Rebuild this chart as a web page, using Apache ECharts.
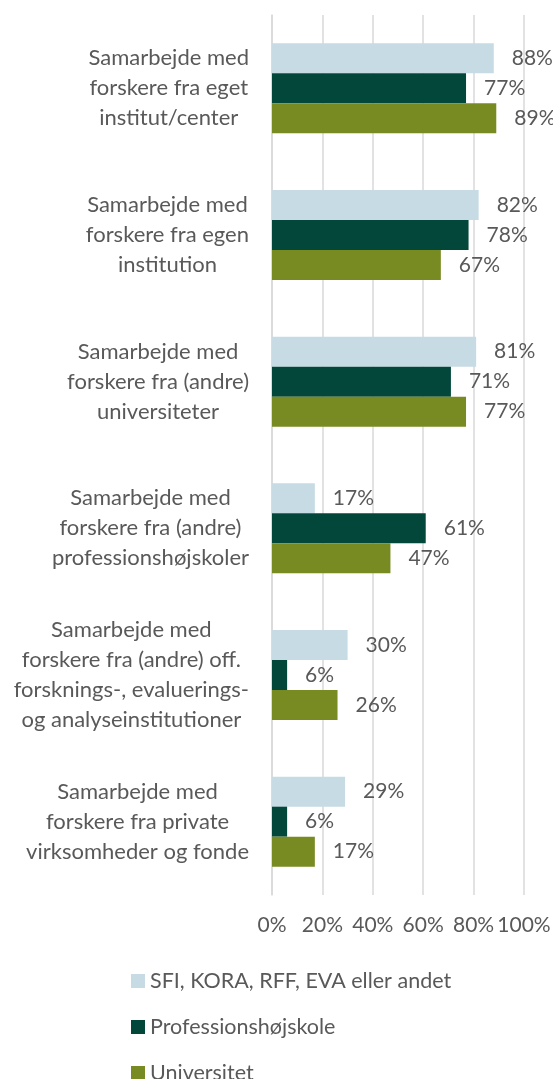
<!DOCTYPE html>
<html>
<head>
<meta charset="utf-8">
<script src="https://cdn.jsdelivr.net/npm/echarts@6/dist/echarts.min.js"></script>
<style>
  html, body { margin: 0; padding: 0; background: #fff; }
  #chart { width: 553px; height: 1079px; }
</style>
</head>
<body>
<div id="chart"></div>
<script>
// data
var categories = [
  'Samarbejde med\nforskere fra eget\ninstitut/center',
  'Samarbejde med\nforskere fra egen\ninstitution',
  'Samarbejde med\nforskere fra (andre)\nuniversiteter',
  'Samarbejde med\nforskere fra (andre)\nprofessionshøjskoler',
  'Samarbejde med\nforskere fra (andre) off.\nforsknings-, evaluerings-\nog analyseinstitutioner',
  'Samarbejde med\nforskere fra private\nvirksomheder og fonde'
];
var seriesNames = ['SFI, KORA, RFF, EVA eller andet', 'Professionshøjskole', 'Universitet'];
var sfiValues = [88, 82, 81, 17, 30, 29];
var profValues = [77, 78, 71, 61, 6, 6];
var uniValues = [89, 67, 77, 47, 26, 17];
var xTicks = [0, 20, 40, 60, 80, 100];

var colors = ['#c6dbe3', '#03473a', '#778b22'];
var textColor = '#595959';
var font = 'Lato';

var chart = echarts.init(document.getElementById('chart'));

function makeSeries(name, values, color) {
  return {
    name: name,
    type: 'bar',
    data: values,
    barWidth: 30,
    barGap: '0%',
    itemStyle: { color: color },
    label: {
      show: true,
      position: 'right',
      distance: 18,
      formatter: '{c}%',
      color: textColor,
      fontFamily: font,
      fontSize: 21
    }
  };
}

var option = {
  animation: false,
  color: colors,
  grid: {
    left: 272,
    right: 29,
    top: 15,
    bottom: 184,
    outerBoundsMode: 'none'
  },
  legend: {
    orient: 'vertical',
    left: 131,
    top: 970,
    height: 140,
    padding: 0,
    itemWidth: 14,
    itemHeight: 14,
    itemGap: 24,
    icon: 'rect',
    data: seriesNames,
    textStyle: { color: textColor, fontFamily: font, fontSize: 21.5 }
  },
  xAxis: {
    type: 'value',
    min: xTicks[0],
    max: xTicks[xTicks.length - 1],
    interval: 20,
    axisLine: { show: false },
    axisTick: { show: false },
    splitLine: { lineStyle: { color: '#d9d9d9', width: 1.5 } },
    axisLabel: {
      formatter: '{value}%',
      color: textColor,
      fontFamily: font,
      fontSize: 21,
      margin: 20
    }
  },
  yAxis: {
    type: 'category',
    inverse: true,
    data: categories,
    axisLine: { show: true, lineStyle: { color: '#d9d9d9', width: 1.5 } },
    axisTick: { show: false },
    axisLabel: {
      margin: 23,
      align: 'right',
      color: textColor,
      fontFamily: font,
      fontSize: 22,
      lineHeight: 30,
      formatter: function (v) {
        return v.split('\n').map(function (s) { return '{c|' + s + '}'; }).join('\n');
      },
      rich: {
        c: { align: 'center', color: textColor, fontFamily: font, fontSize: 22, lineHeight: 30 }
      }
    }
  },
  series: [
    makeSeries(seriesNames[0], sfiValues, colors[0]),
    makeSeries(seriesNames[1], profValues, colors[1]),
    makeSeries(seriesNames[2], uniValues, colors[2])
  ]
};

chart.setOption(option);
</script>
</body>
</html>
